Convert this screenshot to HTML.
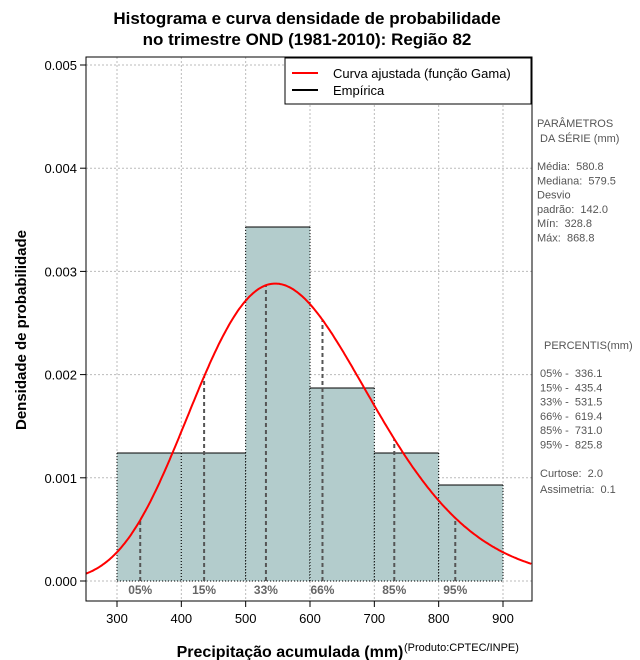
<!DOCTYPE html>
<html><head><meta charset="utf-8">
<style>
body{margin:0;background:#fff;}
svg{display:block;font-family:"Liberation Sans",sans-serif;}
</style></head>
<body>
<svg id="chart" width="640" height="660" viewBox="0 0 640 660">
</svg>
<script>
const binEdges=[300,400,500,600,700,800,900];
const binDensity=[0.00124,0.00124,0.00343,0.00187,0.00124,0.00093];
const gammaMean=580.8;
const gammaSd=142.0;
const pctLabels=["05%","15%","33%","66%","85%","95%"];
const pctValues=[336.1,435.4,531.5,619.4,731.0,825.8];
const xTicks=[300,400,500,600,700,800,900];
const yTicks=[0,0.001,0.002,0.003,0.004,0.005];
const statLines=["Média:  580.8","Mediana:  579.5","Desvio","padrão:  142.0","Mín:  328.8","Máx:  868.8"];
const pctLines=["05% -  336.1","15% -  435.4","33% -  531.5","66% -  619.4","85% -  731.0","95% -  825.8"];

const L=86,R=532,T=57,B=601;
const X=v=>117+(v-300)*(386/600);
const Y=v=>581-v*103.2*1000;
const NS="http://www.w3.org/2000/svg";
const svg=document.getElementById('chart');
function mk(tag,attrs,parent){const e=document.createElementNS(NS,tag);for(const k in attrs)e.setAttribute(k,attrs[k]);(parent||svg).appendChild(e);return e;}
function txt(s,attrs,parent){const e=mk('text',attrs,parent);e.textContent=s;return e;}

const grid=mk('g',{});


xTicks.forEach(v=>mk('line',{x1:X(v),x2:X(v),y1:T,y2:B,stroke:'#bbb','stroke-dasharray':'2,2'},grid));
yTicks.forEach(v=>mk('line',{x1:L,x2:R,y1:Y(v),y2:Y(v),stroke:'#bbb','stroke-dasharray':'2,2'},grid));

const bars=mk('g',{});


binDensity.forEach((d,i)=>{
  const x0=X(binEdges[i]),x1=X(binEdges[i+1]),y=Y(d);
  const r=mk('rect',{x:x0,y:y,width:x1-x0,height:Y(0)-y,fill:'#b3cccc'},bars);
  
  
  mk('line',{x1:x0,x2:x1,y1:y,y2:y,stroke:'#000'},bars);
  mk('line',{x1:x0,x2:x0,y1:y,y2:Y(0),stroke:'#000','stroke-dasharray':'1,2'},bars);
  mk('line',{x1:x1,x2:x1,y1:y,y2:Y(0),stroke:'#000','stroke-dasharray':'1,2'},bars);
});
mk('line',{x1:X(binEdges[0]),x2:X(binEdges[binEdges.length-1]),y1:Y(0),y2:Y(0),stroke:'#000','stroke-dasharray':'1,2'},bars);

const k=(gammaMean/gammaSd)**2, th=gammaSd*gammaSd/gammaMean;
function lgamma(z){const g=7,c=[0.99999999999980993,676.5203681218851,-1259.1392167224028,771.32342877765313,-176.61502916214059,12.507343278686905,-0.13857109526572012,9.9843695780195716e-6,1.5056327351493116e-7];z-=1;let a=c[0];const t=z+g+0.5;for(let i=1;i<9;i++)a+=c[i]/(z+i);return 0.5*Math.log(2*Math.PI)+(z+0.5)*Math.log(t)-t+Math.log(a);}
const lg=lgamma(k);
const pdf=x=>Math.exp((k-1)*Math.log(x)-x/th-lg-k*Math.log(th));

const pg=mk('g',{});


pctValues.forEach((v,i)=>{
  mk('line',{x1:X(v),x2:X(v),y1:Y(0),y2:Y(pdf(v)),stroke:'#555','stroke-width':2,'stroke-dasharray':'4,3'},pg);
  const t=txt(pctLabels[i],{x:X(v),y:594,'text-anchor':'middle','font-size':12,'font-weight':'bold',fill:'#666'},pg);
  
  
});

let d='';
for(let x=252;x<=945;x+=2){d+=(d?'L':'M')+X(x).toFixed(1)+','+Y(pdf(x)).toFixed(1);}
const curve=mk('path',{d:d,fill:'none',stroke:'#f00','stroke-width':2});



const frame=mk('rect',{x:L,y:T,width:R-L,height:B-T,fill:'none',stroke:'#000'});



const xa=mk('g',{});


xTicks.forEach(v=>{mk('line',{x1:X(v),x2:X(v),y1:B,y2:B+6,stroke:'#000'},xa);txt(String(v),{x:X(v),y:623,'text-anchor':'middle','font-size':13},xa);});
const ya=mk('g',{});


yTicks.forEach(v=>{mk('line',{x1:L-6,x2:L,y1:Y(v),y2:Y(v),stroke:'#000'},ya);txt(v.toFixed(3),{x:L-9,y:Y(v)+5,'text-anchor':'end','font-size':13},ya);});

const t1=txt('Histograma e curva densidade de probabilidade',{x:307,y:24,'text-anchor':'middle','font-size':17,'font-weight':'bold'});

const t2=txt('no trimestre OND (1981-2010): Região 82',{x:307,y:45,'text-anchor':'middle','font-size':17,'font-weight':'bold'});

const xt=txt('Precipitação acumulada (mm)',{x:290,y:657,'text-anchor':'middle','font-size':16,'font-weight':'bold'});

const pr=txt('(Produto:CPTEC/INPE)',{x:404,y:651,'font-size':11});

const yt=txt('Densidade de probabilidade',{x:0,y:0,transform:'translate(26,330) rotate(-90)','text-anchor':'middle','font-size':15,'font-weight':'bold'});


const lg2=mk('g',{});


mk('rect',{x:285,y:58,width:246,height:46,fill:'#fff',stroke:'#000'},lg2);
mk('line',{x1:292,x2:318,y1:73,y2:73,stroke:'#f00','stroke-width':2},lg2);
txt('Curva ajustada (função Gama)',{x:333,y:78,'font-size':13},lg2);
mk('line',{x1:292,x2:318,y1:90,y2:90,stroke:'#000','stroke-width':2},lg2);
txt('Empírica',{x:333,y:95,'font-size':13},lg2);

const sp=mk('g',{fill:'#555','font-size':11});


txt('PARÂMETROS',{x:537,y:127},sp);
txt('DA SÉRIE (mm)',{x:540,y:142},sp);
statLines.forEach((s,i)=>txt(s,{x:537,y:170+i*14.3},sp).setAttribute('style','white-space:pre'));
txt('PERCENTIS(mm)',{x:544,y:349},sp);
pctLines.forEach((s,i)=>txt(s,{x:540,y:377+i*14.3},sp).setAttribute('style','white-space:pre'));
txt('Curtose:  2.0',{x:540,y:477},sp).setAttribute('style','white-space:pre');
txt('Assimetria:  0.1',{x:540,y:493},sp).setAttribute('style','white-space:pre');
</script>
</body></html>
